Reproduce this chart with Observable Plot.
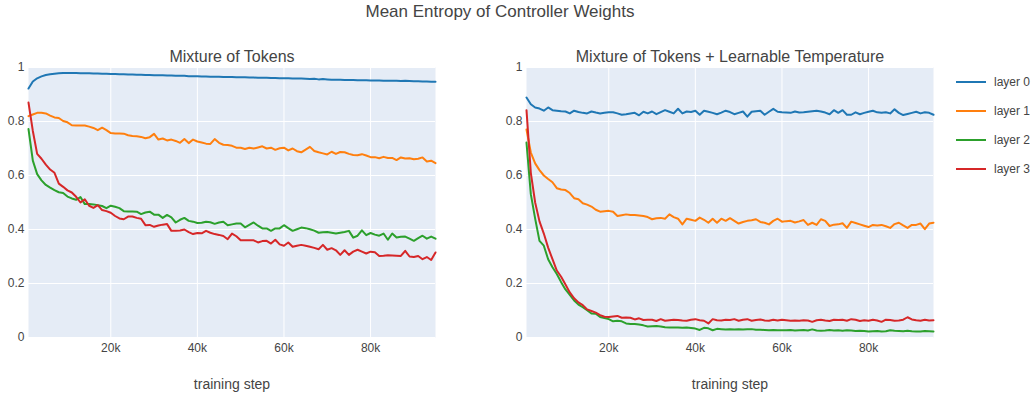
<!DOCTYPE html>
<html>
<head>
<meta charset="utf-8">
<script src="https://cdn.jsdelivr.net/npm/d3@7"></script>
<script src="https://cdn.jsdelivr.net/npm/@observablehq/plot@0.6"></script>
<style>
  html, body { margin: 0; padding: 0; background: #fff; }
  #wrap { position: relative; width: 1036px; height: 394px; font-family: "Liberation Sans", Arial, sans-serif; color: #444; }
  #title { position: absolute; top: 2px; left: 500px; transform: translateX(-50%); font-size: 17px; white-space: nowrap; line-height: 20px; }
  #legend { position: absolute; left: 956px; top: 0; font-size: 12px; }
  .item { position: absolute; left: 0; width: 80px; height: 16px; }
  .item svg { position: absolute; left: 0; top: 0; }
  .item span { position: absolute; left: 38px; top: 0; line-height: 16px; white-space: nowrap; }
</style>
</head>
<body>
<div id="wrap">
  <div id="chart"></div>
  <div id="title"></div>
  <div id="legend"></div>
</div>
<script>
const chartTitle = "Mean Entropy of Controller Weights";
const panels = ["Mixture of Tokens", "Mixture of Tokens + Learnable Temperature"];
const layers = ["layer 0", "layer 1", "layer 2", "layer 3"];
const colors = ["#1f77b4", "#ff7f0e", "#2ca02c", "#d62728"];
const xLabel = "training step";
const xTicks = [20000, 40000, 60000, 80000];
const yTicks = [0, 0.2, 0.4, 0.6, 0.8, 1];
const steps = d3.range(1000, 96000, 1000);

// Mixture of Tokens
const motLayer0 = [.922,.948,.960,.967,.972,.975,.977,.979,.980,.980,
.980,.980,.979,.979,.979,.978,.978,.977,.977,.976,
.976,.975,.975,.974,.974,.973,.973,.972,.972,.971,
.971,.971,.970,.970,.969,.969,.969,.968,.968,.968,
.967,.967,.966,.966,.966,.965,.965,.965,.964,.964,
.964,.963,.963,.962,.962,.962,.961,.961,.960,.960,
.960,.959,.959,.959,.958,.957,.958,.956,.957,.956,
.955,.955,.955,.954,.954,.954,.953,.953,.953,.952,
.952,.952,.951,.951,.951,.951,.950,.951,.950,.949,
.949,.948,.948,.947,.947];
const motLayer1 = [.820,.826,.832,.832,.830,.822,.815,.813,.802,.797,
.786,.785,.785,.785,.781,.776,.768,.777,.768,.757,
.756,.756,.755,.749,.746,.745,.743,.738,.742,.754,
.733,.737,.730,.733,.728,.721,.735,.720,.733,.726,
.722,.718,.717,.735,.721,.714,.713,.710,.703,.703,
.698,.703,.700,.704,.708,.700,.703,.695,.701,.703,
.693,.700,.690,.686,.696,.706,.691,.686,.682,.678,
.688,.680,.687,.686,.680,.676,.675,.679,.674,.668,
.668,.664,.669,.665,.665,.657,.667,.663,.664,.660,
.662,.667,.652,.655,.646];
const motLayer2 = [.772,.655,.605,.582,.565,.555,.546,.538,.535,.522,
.515,.510,.520,.494,.494,.493,.490,.487,.479,.488,
.484,.479,.468,.467,.467,.466,.457,.463,.466,.455,
.455,.443,.454,.445,.426,.436,.443,.432,.429,.424,
.425,.429,.427,.421,.426,.429,.416,.419,.422,.422,
.408,.417,.426,.414,.404,.404,.395,.404,.404,.416,
.405,.395,.401,.407,.405,.401,.396,.388,.390,.391,
.388,.385,.388,.391,.395,.370,.377,.397,.379,.387,
.381,.377,.385,.362,.385,.370,.373,.374,.366,.358,
.368,.377,.366,.374,.366];
const motLayer3 = [.870,.765,.680,.662,.640,.622,.610,.570,.558,.545,
.537,.521,.500,.512,.488,.480,.490,.472,.468,.462,
.450,.441,.438,.448,.448,.443,.440,.416,.417,.410,
.415,.418,.420,.395,.395,.396,.400,.390,.383,.387,
.386,.395,.388,.383,.380,.376,.364,.385,.375,.360,
.360,.360,.360,.352,.357,.358,.348,.362,.345,.340,
.352,.336,.340,.343,.340,.336,.332,.327,.343,.325,
.331,.323,.306,.323,.306,.318,.325,.318,.311,.318,
.316,.302,.303,.305,.304,.303,.302,.321,.300,.298,
.302,.290,.298,.287,.315];

// Mixture of Tokens + Learnable Temperature
const mltLayer0 = [.889,.864,.852,.848,.840,.852,.842,.840,.838,.837,
.830,.840,.835,.832,.830,.837,.833,.830,.832,.834,
.834,.830,.825,.827,.830,.832,.823,.836,.830,.837,
.827,.835,.842,.836,.830,.847,.830,.837,.835,.840,
.825,.840,.836,.832,.827,.833,.840,.835,.827,.832,
.837,.818,.836,.838,.840,.825,.836,.847,.836,.834,
.833,.832,.837,.833,.834,.836,.838,.840,.837,.833,
.827,.842,.832,.842,.825,.825,.834,.827,.832,.836,
.840,.834,.832,.834,.830,.845,.832,.824,.828,.832,
.836,.830,.834,.832,.825];
const mltLayer1 = [.770,.685,.645,.620,.600,.587,.575,.553,.548,.546,
.535,.516,.512,.497,.492,.485,.473,.466,.468,.469,
.466,.450,.453,.456,.454,.454,.452,.450,.446,.438,
.442,.443,.440,.456,.446,.440,.419,.440,.436,.432,
.444,.436,.425,.440,.425,.440,.432,.442,.432,.422,
.428,.432,.434,.438,.428,.425,.419,.432,.440,.429,
.431,.432,.426,.430,.435,.417,.425,.417,.438,.432,
.413,.418,.419,.423,.406,.429,.424,.419,.414,.409,
.417,.415,.417,.412,.406,.420,.425,.415,.406,.417,
.417,.422,.401,.422,.425];
const mltLayer2 = [.722,.531,.440,.358,.340,.290,.260,.235,.205,.178,
.158,.137,.122,.112,.101,.089,.088,.076,.072,.068,
.060,.062,.060,.052,.050,.050,.048,.045,.041,.042,
.043,.041,.038,.037,.037,.037,.036,.037,.035,.033,
.028,.036,.034,.027,.032,.031,.030,.031,.030,.031,
.030,.031,.031,.029,.029,.028,.027,.028,.027,.027,
.027,.028,.026,.027,.028,.026,.030,.026,.025,.026,
.028,.026,.027,.025,.027,.026,.024,.025,.024,.022,
.023,.024,.022,.023,.027,.025,.024,.023,.025,.023,
.022,.022,.024,.023,.022];
const mltLayer3 = [.842,.610,.500,.430,.385,.333,.290,.248,.225,.196,
.167,.145,.130,.120,.104,.098,.092,.083,.077,.076,
.078,.080,.073,.074,.073,.067,.071,.065,.066,.066,
.061,.068,.062,.064,.066,.065,.063,.062,.066,.068,
.064,.062,.052,.068,.064,.063,.066,.065,.068,.062,
.066,.068,.062,.065,.067,.063,.062,.066,.063,.066,
.064,.062,.063,.062,.064,.063,.058,.064,.066,.063,
.061,.066,.065,.066,.062,.068,.066,.061,.064,.062,
.066,.063,.058,.066,.065,.062,.063,.066,.075,.067,
.064,.062,.066,.063,.064];

const series = [
  [motLayer0, motLayer1, motLayer2, motLayer3],
  [mltLayer0, mltLayer1, mltLayer2, mltLayer3]
];

const rows = [];
panels.forEach((p, i) => layers.forEach((l, j) => series[i][j].forEach((v, k) =>
  rows.push({panel: p, layer: l, step: steps[k], value: v}))));

const fmtY = d => d === 0 ? "0" : d === 1 ? "1" : String(d);

const chart = Plot.plot({
  width: 1036,
  height: 394,
  marginLeft: 28,
  marginRight: 103,
  marginTop: 67,
  marginBottom: 57,
  style: {fontFamily: '"Liberation Sans", Arial, sans-serif', fontSize: "12px", color: "#444", background: "white", overflow: "visible"},
  fx: {domain: panels, paddingInner: 0.1827, paddingOuter: 0, round: false, axis: null, label: null},
  x: {domain: [1000, 95000], label: null},
  y: {domain: [0, 1], label: null},
  color: {domain: layers, range: colors},
  marks: [
    Plot.frame({fill: "#E5ECF6", stroke: null}),
    Plot.gridX(xTicks, {stroke: "white", strokeOpacity: 1, strokeWidth: 1}),
    Plot.gridY(yTicks, {stroke: "white", strokeOpacity: 1, strokeWidth: 1}),
    Plot.axisX(xTicks, {tickSize: 0, tickPadding: 6, tickFormat: d => d / 1000 + "k", label: null, fontSize: 12, fill: "#444", facetAnchor: null}),
    Plot.axisY(yTicks, {tickSize: 0, tickPadding: 4, tickFormat: fmtY, label: null, fontSize: 12, fill: "#444", facetAnchor: null}),
    Plot.line(rows, {fx: "panel", x: "step", y: "value", z: "layer", stroke: "layer", strokeWidth: 2, curve: "linear"}),
    Plot.text(panels, {fx: d => d, text: d => d, frameAnchor: "top", lineAnchor: "middle", dy: -11, fontSize: 16, fill: "#444"}),
    Plot.text(panels, {fx: d => d, text: () => xLabel, frameAnchor: "bottom", lineAnchor: "middle", dy: 47, fontSize: 14, fill: "#444"})
  ]
});
document.getElementById("chart").appendChild(chart);

document.getElementById("title").textContent = chartTitle;
const legend = document.getElementById("legend");
const legendY = [82, 111, 140, 169];
layers.forEach((l, i) => {
  const item = document.createElement("div");
  item.className = "item";
  item.style.top = (legendY[i] - 8) + "px";
  item.innerHTML = `<svg width="32" height="16"><line x1="0" x2="30" y1="8" y2="8" stroke="${colors[i]}" stroke-width="2"/></svg><span>${l}</span>`;
  legend.appendChild(item);
});
</script>
</body>
</html>
